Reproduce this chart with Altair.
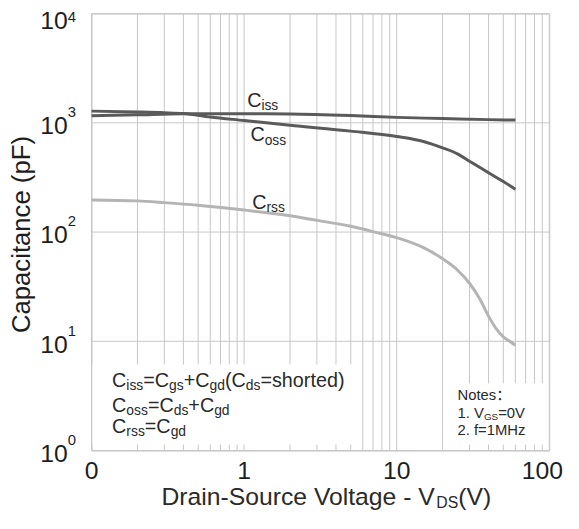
import re
import altair as alt
import pandas as pd

# ---------------- data ----------------
v_ciss = [0.1, 0.2, 0.4, 1, 2, 5, 10, 20, 40, 60]
c_ciss = [1160, 1185, 1210, 1212, 1205, 1165, 1122, 1095, 1070, 1060]

v_coss = [0.1, 0.2, 0.3, 0.4, 0.6, 1, 2, 5, 10, 15, 20, 25, 30, 40, 50, 60]
c_coss = [1280, 1258, 1238, 1215, 1130, 1050, 950, 840, 750, 675, 590, 520, 446, 349, 290, 247]

v_crss = [0.1, 0.2, 0.3, 0.5, 1, 2, 3, 5, 7, 10, 15, 20, 25, 30, 35, 40, 45, 50, 55, 60]
c_crss = [197, 193, 186, 176, 159, 141, 128, 113, 101, 89, 72, 57, 45, 34, 24.5, 17, 13, 11, 10, 9.2]

series_names = ["Ciss", "Coss", "Crss"]
label_main = ["C", "C", "C"]
label_sub = ["iss", "oss", "rss"]
label_v = [1.047, 1.10, 1.13]
label_c = [1402, 676, 163]

x_tick_values = [0.1, 1, 10, 100]
x_tick_labels = ["0", "1", "10", "100"]
x_grid_values = [round(m * 10.0 ** e, 6) for e in (-1, 0, 1) for m in range(1, 10)] + [100]

y_tick_values = [1, 10, 100, 1000, 10000]
y_tick_base = ["10", "10", "10", "10", "10"]
y_tick_exp = ["0", "1", "2", "3", "4"]

formula_lines = ["C_{iss}=C_{gs}+C_{gd}(C_{ds}=shorted)", "C_{oss}=C_{ds}+C_{gd}", "C_{rss}=C_{gd}"]
notes_lines = ["Notes：", "1. V_{GS}=0V", "2. f=1MHz"]
x_title = "Drain-Source Voltage - V_{DS}(V)"
y_title = "Capacitance (pF)"

# ---------------- styling ----------------
FONT = "Liberation Sans, Arial, Noto Sans CJK SC, sans-serif"
GRID = "#c6c6c6"
TXT = "#1e1e1e"
ANN = "#2a2a2a"
PW, PH = 463, 442

# Arial-compatible advance widths (1/1000 em) for rich-text layout
W = {' ': 278, '(': 333, ')': 333, '+': 584, '-': 333, '.': 278, '=': 584, '：': 1000,
     'C': 722, 'D': 722, 'F': 611, 'G': 778, 'H': 722, 'M': 833, 'N': 722, 'S': 667, 'V': 667,
     'a': 556, 'c': 500, 'd': 556, 'e': 556, 'f': 278, 'g': 556, 'h': 556, 'i': 222, 'l': 222,
     'n': 556, 'o': 556, 'p': 556, 'r': 333, 's': 500, 't': 278, 'u': 556, 'z': 500}


def tw(s, size):
    return sum(W.get(ch, 556) for ch in s) / 1000.0 * size


def rich(s, x0, y0, F, f, sub_dy):
    parts = re.split(r'_\{([^}]*)\}', s)
    rows, x = [], x0
    for i, p in enumerate(parts):
        if not p:
            continue
        sub = i % 2 == 1
        size = f if sub else F
        rows.append({"px": x, "py": y0 + (sub_dy if sub else 0), "t": p, "fs": size})
        x += tw(p, size)
    return rows


ann_rows = []
for s, yb in zip(formula_lines, [377.6, 403.3, 424.6]):
    ann_rows += rich(s, 20.8, yb, 20, 14, 3)
for s, yb in zip(notes_lines, [391, 408.6, 426]):
    ann_rows += rich(s, 370.2, yb, 15, 10, 2.5)
ann_rows += rich(x_title, 70.8, 497.5, 25, 16, 3)
df_ann = pd.DataFrame(ann_rows)

rows = []
for name, vs, cs in [("Crss", v_crss, c_crss), ("Coss", v_coss, c_coss), ("Ciss", v_ciss, c_ciss)]:
    for v, c in zip(vs, cs):
        rows.append({"V": v, "C": c, "S": name})
df_lines = pd.DataFrame(rows)

df_lab = pd.DataFrame({"V": label_v, "C": label_c, "main": label_main, "sub": label_sub})
df_y = pd.DataFrame({"val": y_tick_values, "base": y_tick_base, "exp": y_tick_exp})
df_xt = pd.DataFrame({"V": x_tick_values, "lab": x_tick_labels})
df_xg = pd.DataFrame({"gv": x_grid_values})
df_yg = pd.DataFrame({"yv": y_tick_values})
one = pd.DataFrame({"a": [0]})

xs = alt.Scale(type="log", domain=[0.1, 100], nice=False)
ys = alt.Scale(type="log", domain=[1, 10000], nice=False)


def X(field):
    return alt.X(field, scale=xs, axis=None)


def Y(field):
    return alt.Y(field, scale=ys, axis=None)


grid_x = alt.Chart(df_xg).mark_rule(color=GRID, strokeWidth=1).encode(
    x=X("gv:Q"), y=alt.value(0), y2=alt.value(PH))
grid_y = alt.Chart(df_yg).mark_rule(color=GRID, strokeWidth=1).encode(
    y=Y("yv:Q"), x=alt.value(0), x2=alt.value(PW))

box_formula = alt.Chart(one).mark_rect(color="white").encode(
    x=alt.value(1), x2=alt.value(267), y=alt.value(355), y2=alt.value(436))
box_notes = alt.Chart(one).mark_rect(color="white").encode(
    x=alt.value(362), x2=alt.value(PW - 1), y=alt.value(374), y2=alt.value(436))

lines = alt.Chart(df_lines).mark_line(strokeWidth=3, interpolate="monotone").encode(
    x=X("V:Q"),
    y=Y("C:Q"),
    color=alt.Color("S:N", scale=alt.Scale(domain=series_names,
                                           range=["#5a5a5a", "#5a5a5a", "#b4b4b4"]), legend=None),
)

lab_main = alt.Chart(df_lab).mark_text(align="left", baseline="alphabetic", font=FONT,
                                       fontSize=20, color=ANN).encode(
    x=X("V:Q"), y=Y("C:Q"), text="main:N")
lab_sub = alt.Chart(df_lab).mark_text(align="left", baseline="alphabetic", font=FONT,
                                      fontSize=14, dx=14.4, dy=3.4, color=ANN).encode(
    x=X("V:Q"), y=Y("C:Q"), text="sub:N")

# y tick labels 10^n
ylab_base = alt.Chart(df_y).transform_filter("datum.val < 10000").mark_text(
    align="right", baseline="alphabetic", font=FONT, fontSize=25, dy=11.5, color=TXT).encode(
    x=alt.value(-24), y=Y("val:Q"), text="base:N")
ylab_exp = alt.Chart(df_y).transform_filter("datum.val < 10000").mark_text(
    align="left", baseline="alphabetic", font=FONT, fontSize=15, dy=-5.7, color=TXT).encode(
    x=alt.value(-24), y=Y("val:Q"), text="exp:N")
ylab_base_top = alt.Chart(df_y).transform_filter("datum.val >= 10000").mark_text(
    align="right", baseline="alphabetic", font=FONT, fontSize=25, dy=15.5, color=TXT).encode(
    x=alt.value(-24), y=Y("val:Q"), text="base:N")
ylab_exp_top = alt.Chart(df_y).transform_filter("datum.val >= 10000").mark_text(
    align="left", baseline="alphabetic", font=FONT, fontSize=15, dy=8, color=TXT).encode(
    x=alt.value(-24), y=Y("val:Q"), text="exp:N")

# x tick labels
xlab = alt.Chart(df_xt).transform_filter("datum.V < 100").mark_text(
    align="center", baseline="alphabetic", font=FONT, fontSize=25, dy=28.5, color=TXT).encode(
    x=X("V:Q"), y=alt.value(PH), text="lab:N")
xlab_end = alt.Chart(df_xt).transform_filter("datum.V >= 100").mark_text(
    align="center", baseline="alphabetic", font=FONT, fontSize=25, dy=28.5, dx=-7, color=TXT).encode(
    x=X("V:Q"), y=alt.value(PH), text="lab:N")

# y axis title
ytitle = alt.Chart(one).mark_text(align="center", baseline="alphabetic", font=FONT,
                                  fontSize=26, angle=270, color=TXT).encode(
    x=alt.value(-62.5), y=alt.value(223.5), text=alt.value(y_title))

# rich-text annotations (formulas, notes, x title)
ann = alt.Chart(df_ann).mark_text(align="left", baseline="alphabetic", font=FONT, color=ANN).encode(
    x=alt.X("px:Q", scale=None, axis=None),
    y=alt.Y("py:Q", scale=None, axis=None),
    text="t:N",
    size=alt.Size("fs:Q", scale=None),
)

chart = alt.layer(
    grid_x, grid_y, box_formula, box_notes, lines, lab_main, lab_sub,
    ylab_base, ylab_exp, ylab_base_top, ylab_exp_top, xlab, xlab_end, ytitle, ann
).properties(
    width=PW, height=PH,
    autosize=alt.AutoSizeParams(type="none"),
    padding={"left": 84.5, "top": 2.7, "right": 22, "bottom": 70},
    background="white",
).configure_view(stroke=GRID, strokeWidth=1)

chart.save("out.html", embed_options={"renderer": "svg", "actions": False})
